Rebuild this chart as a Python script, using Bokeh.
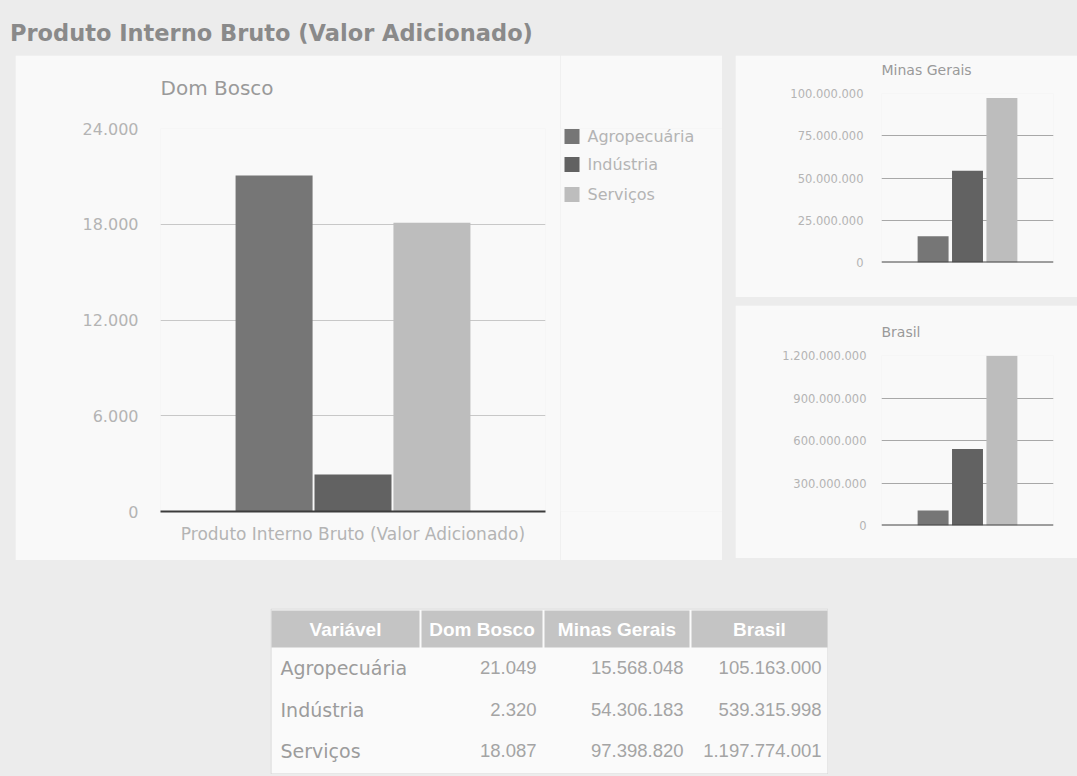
from bokeh.plotting import figure
from bokeh.models import (FactorRange, Range1d, FixedTicker, Div, Spacer, Span,
                          ColumnDataSource, Title)
from bokeh.layouts import column, row
from bokeh.transform import dodge
from bokeh.embed import file_html
from bokeh.resources import INLINE
from bokeh.core.properties import value

# ---------------- data ----------------
chart_title = "Produto Interno Bruto (Valor Adicionado)"
category = "Produto Interno Bruto (Valor Adicionado)"
series = ["Agropecuária", "Indústria", "Serviços"]
regions = ["Dom Bosco", "Minas Gerais", "Brasil"]
dom_bosco = [21049, 2320, 18087]
minas_gerais = [15568048, 54306183, 97398820]
brasil = [105163000, 539315998, 1197774001]
dom_bosco_ticks = [0, 6000, 12000, 18000, 24000]
minas_ticks = [0, 25000000, 50000000, 75000000, 100000000]
brasil_ticks = [0, 300000000, 600000000, 900000000, 1200000000]
table_header = ["Variável", "Dom Bosco", "Minas Gerais", "Brasil"]

# ---------------- styles ----------------
PAGE_BG = "#ececec"
PANEL_BG = "#f9f9f9"
COLORS = ["#767676", "#626262", "#bdbdbd"]
FONT = "DejaVu Sans"
ARIAL = "Liberation Sans"


def fmt(v):
    return f"{v:,}".replace(",", ".")


def bar_chart(title, values, ticks, width, height, borders, offsets, bar_w,
              title_size, tick_size, tick_standoff, grid_color, show_x,
              title_standoff=0):
    left, right, top, bottom = borders
    p = figure(width=width, height=height,
               x_range=FactorRange(factors=[category], range_padding=0),
               y_range=Range1d(0, ticks[-1]),
               toolbar_location=None, output_backend="svg",
               min_border_left=left, min_border_right=right,
               min_border_top=top, min_border_bottom=bottom)
    p.background_fill_color = PANEL_BG
    p.border_fill_color = PANEL_BG
    p.outline_line_color = None
    p.title = None
    # a trailing empty line lifts the title one line away from the frame
    p.add_layout(Title(text=title + "\n", text_font=FONT, text_font_size=title_size,
                       text_font_style="normal", text_color="#9a9a9a",
                       align="left", standoff=title_standoff), "above")

    for i, name in enumerate(series):
        src = ColumnDataSource(dict(cat=[category], val=[values[i]]))
        p.vbar(x=dodge("cat", offsets[i], range=p.x_range), top="val",
               width=bar_w, source=src, fill_color=COLORS[i], line_color=None)

    p.xgrid.grid_line_color = None
    p.ygrid.grid_line_color = grid_color
    p.ygrid.grid_line_width = 1
    p.yaxis.ticker = FixedTicker(ticks=ticks)
    p.yaxis.major_label_overrides = {t: fmt(t) for t in ticks}
    p.yaxis.axis_line_color = None
    p.yaxis.major_tick_line_color = None
    p.yaxis.minor_tick_line_color = None
    p.yaxis.major_label_text_font = FONT
    p.yaxis.major_label_text_font_size = tick_size
    p.yaxis.major_label_text_color = "#b4b4b4"
    p.yaxis.major_label_standoff = tick_standoff

    if show_x:
        p.xaxis.axis_line_color = "#3c3c3c"
        p.xaxis.axis_line_width = 2
        p.xaxis.major_tick_line_color = None
        p.xaxis.minor_tick_line_color = None
        p.xaxis.major_label_text_font = FONT
        p.xaxis.major_label_text_font_size = "17px"
        p.xaxis.major_label_text_color = "#b4b4b4"
        p.xaxis.major_label_standoff = 6
    else:
        p.xaxis.visible = False
        p.add_layout(Span(location=0, dimension="width",
                          line_color="#454545", line_width=2))
    return p


main = bar_chart(regions[0], dom_bosco, dom_bosco_ticks, 545, 505,
                 (145, 15, 73, 49), [-0.205, 0.0, 0.205], 0.2,
                 "20px", "16px", 16, "#c8c8c8", True, title_standoff=10)

# legend panel (continues the main chart's panel on the right; its frame is
# aligned with the main chart's frame, so y runs in pixels from the frame top)
legend_rows = [8, 36, 66]
lf = figure(width=162, height=505, x_range=Range1d(0, 162), y_range=Range1d(383, 0),
            toolbar_location=None, output_backend="svg",
            min_border_left=0, min_border_right=0,
            min_border_top=73, min_border_bottom=49)
lf.axis.visible = False
lf.grid.visible = False
lf.outline_line_color = None
lf.background_fill_color = PANEL_BG
lf.border_fill_color = PANEL_BG
lf.rect(x=[11.5] * 3, y=legend_rows, width=15, height=15, fill_color=COLORS,
        line_color=None)
lf.text(x=[27] * 3, y=legend_rows, text=series, text_align="left",
        text_baseline="middle", text_font=value(FONT), text_font_size="16px",
        text_color="#b4b4b4")

minas = bar_chart(regions[1], minas_gerais, minas_ticks, 342, 242,
                  (146, 24, 38, 35), [-0.2, 0.0, 0.2], 0.18,
                  "14px", "11.5px", 12, "#a8a8a8", False, title_standoff=0)
brasil_fig = bar_chart(regions[2], brasil, brasil_ticks, 342, 253,
                       (146, 24, 50, 33), [-0.2, 0.0, 0.2], 0.18,
                       "14px", "11.5px", 9, "#a8a8a8", False, title_standoff=0)

# ---------------- table ----------------
col_edges = [0, 150, 273, 420, 558]
row_centers = [59, 101, 142]
t = figure(width=558, height=166, x_range=Range1d(0, 558), y_range=Range1d(166, 0),
           toolbar_location=None, output_backend="svg", min_border=0)
t.axis.visible = False
t.grid.visible = False
t.outline_line_color = None
t.background_fill_color = PAGE_BG
t.border_fill_color = PAGE_BG
t.quad(left=[0.5], right=[557.5], top=[0.5], bottom=[165.5],
       fill_color="#fafafa", line_color="#d4d4d4", line_width=1)
hl = [e + 1 for e in col_edges[:-1]]
hr = [e - 1 for e in col_edges[1:]]
t.quad(left=hl, right=hr, top=[2] * 4, bottom=[39] * 4,
       fill_color="#c4c4c4", line_color=None)
t.text(x=[(a + b) / 2 for a, b in zip(col_edges[:-1], col_edges[1:])], y=[21] * 4,
       text=table_header, text_align="center", text_baseline="middle",
       text_font=value(ARIAL), text_font_style="bold", text_font_size="19px",
       text_color="#ffffff")
t.text(x=[10] * 3, y=row_centers, text=series, text_align="left",
       text_baseline="middle", text_font=value(FONT), text_font_size="19px",
       text_color="#9c9c9c")
for j, vals in enumerate([dom_bosco, minas_gerais, brasil]):
    t.text(x=[col_edges[j + 2] - 7] * 3, y=row_centers,
           text=[fmt(v) for v in vals], text_align="right",
           text_baseline="middle", text_font=value(ARIAL),
           text_font_size="18.5px", text_color="#a4a4a4")

title_div = Div(
    text=(f'<div style="font-family:\'DejaVu Sans\';font-weight:bold;font-size:22.5px;'
          f'color:#8a8a8a;padding:17px 0 0 10px;white-space:nowrap">{chart_title}</div>'),
    width=1077, height=55, margin=0)

root = column(
    title_div,
    row(Spacer(width=15, height=505), main, lf, Spacer(width=13, height=505),
        column(minas, Spacer(width=342, height=8), brasil_fig)),
    Spacer(width=1077, height=48),
    row(Spacer(width=270, height=166), t),
    width=1077, height=776, styles={"background-color": PAGE_BG},
)

open("out.html", "w").write(file_html(root, INLINE))
